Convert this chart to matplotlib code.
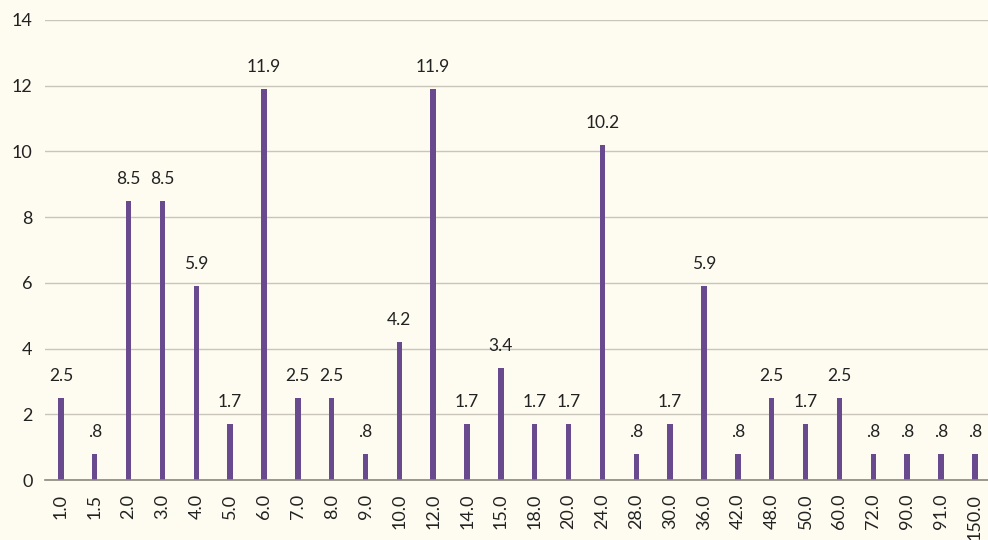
import matplotlib.pyplot as plt

categories = ["1.0", "1.5", "2.0", "3.0", "4.0", "5.0", "6.0", "7.0", "8.0", "9.0",
              "10.0", "12.0", "14.0", "15.0", "18.0", "20.0", "24.0", "28.0", "30.0", "36.0",
              "42.0", "48.0", "50.0", "60.0", "72.0", "90.0", "91.0", "150.0"]
values = [2.5, 0.8, 8.5, 8.5, 5.9, 1.7, 11.9, 2.5, 2.5, 0.8,
          4.2, 11.9, 1.7, 3.4, 1.7, 1.7, 10.2, 0.8, 1.7, 5.9,
          0.8, 2.5, 1.7, 2.5, 0.8, 0.8, 0.8, 0.8]

bg = "#fefbf0"
bar_color = "#6a4a8f"

plt.rcParams['font.family'] = ['Lato', 'DejaVu Sans']

fig = plt.figure(figsize=(9.88, 5.4), dpi=100, facecolor=bg)
ax = fig.add_axes([0.0455, 0.111, 0.9545, 0.852])
ax.set_facecolor(bg)

x = list(range(len(categories)))
ax.bar(x, values, width=0.16, color=bar_color, zorder=3)

for xi, v in zip(x, values):
    txt = f"{v:.1f}"
    if txt.startswith("0"):
        txt = txt[1:]
    ax.annotate(txt, (xi, v), xytext=(0, 10), textcoords="offset points",
                ha="center", va="bottom", fontsize=12.5, color="#222222")

ax.set_xlim(-0.47, 27.39)
ax.set_ylim(0, 14)
ax.set_yticks(range(0, 15, 2))
ax.set_xticks(x)
ax.set_xticklabels(categories, rotation=90, fontsize=13, color="#222222")
ax.tick_params(axis="y", labelsize=13, labelcolor="#222222", length=0, pad=9)
ax.tick_params(axis="x", length=0, pad=10)

ax.yaxis.grid(True, color="#c9c5bb", linewidth=1, zorder=0)
for side in ["top", "right", "left"]:
    ax.spines[side].set_visible(False)
ax.spines["bottom"].set_color("#8a8780")
ax.spines["bottom"].set_linewidth(1.2)
ax.spines["bottom"].set_zorder(4)

fig.savefig("out.png", dpi=100, facecolor=bg)
